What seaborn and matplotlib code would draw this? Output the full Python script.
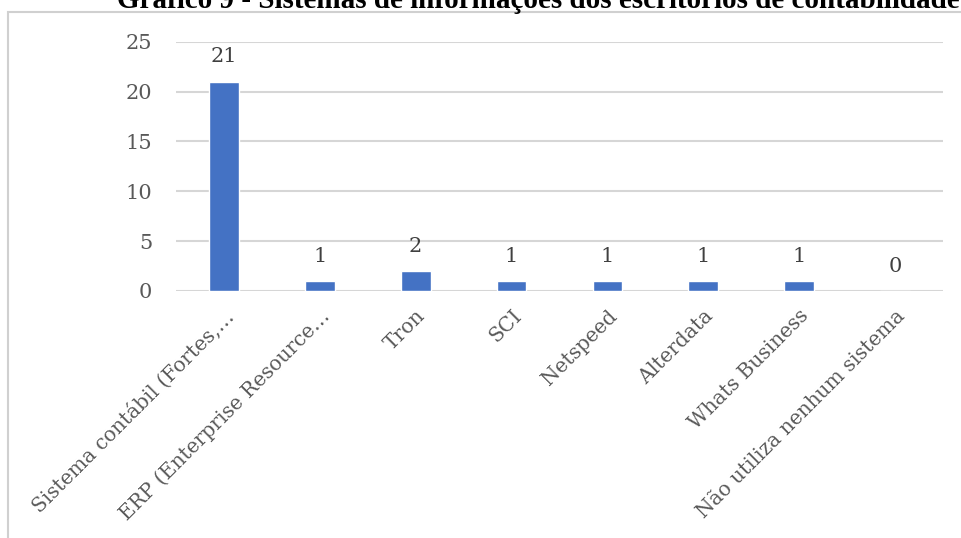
import matplotlib
matplotlib.use("Agg")
import matplotlib.pyplot as plt
import seaborn as sns
import pandas as pd
from matplotlib.patches import Rectangle

categories = ["Sistema contábil (Fortes,…", "ERP (Enterprise Resource…", "Tron", "SCI",
              "Netspeed", "Alterdata", "Whats Business", "Não utiliza nenhum sistema"]
values = [21, 1, 2, 1, 1, 1, 1, 0]
yticks = [0, 5, 10, 15, 20, 25]
title = "Gráfico 9 - Sistemas de informações dos escritórios de contabilidade"

sns.set_theme(style="white")
plt.rcParams['font.family'] = ['DejaVu Serif', 'DejaVu Sans']

W, H = 961, 538
fig = plt.figure(figsize=(W / 100, H / 100), dpi=100)
fig.patch.set_facecolor("white")

# outer frame
fig.patches.append(Rectangle((8 / W, -0.1), 1.1, (H - 12) / H + 0.1, transform=fig.transFigure,
                             fill=False, edgecolor="#d0d0d0", linewidth=1.5, zorder=0))

left, right = 176 / W, 943 / W
top, bottom = 41.7 / H, 291 / H
ax = fig.add_axes([left, 1 - bottom, right - left, bottom - top])

df = pd.DataFrame({"cat": categories, "val": values})
sns.barplot(data=df, x="cat", y="val", color="#4472C4", width=0.31, saturation=1, ax=ax, zorder=3)

ax.set_xlim(-0.5, len(categories) - 0.5)
ax.set_ylim(0, 25)
ax.set_yticks(yticks)
ax.set_yticklabels([str(t) for t in yticks], fontsize=15, color="#595959")
ax.yaxis.grid(True, color="#d6d6d6", linewidth=1.5, zorder=0)
ax.xaxis.grid(False)
for s in ["top", "right", "left", "bottom"]:
    ax.spines[s].set_visible(False)
ax.tick_params(axis="both", length=0)
ax.tick_params(axis="y", pad=17)
ax.tick_params(axis="x", pad=11)
ax.set_xlabel("")
ax.set_ylabel("")
ax.set_xticks(range(len(categories)))
ax.set_xticklabels(categories, rotation=45, ha="right", va="top", rotation_mode="anchor",
                   fontsize=14.5, color="#595959")

for i, v in enumerate(values):
    ax.annotate(str(v), (i, v), xytext=(0, 11), textcoords="offset points",
                ha="center", va="bottom", fontsize=15, color="#404040")

fig.text(538 / W, 1 - 8 / H, title, ha="center", va="baseline", fontsize=21,
         fontweight="bold", family=["Liberation Serif", "DejaVu Serif"], color="black")

fig.savefig("out.png", dpi=100, facecolor="white")
